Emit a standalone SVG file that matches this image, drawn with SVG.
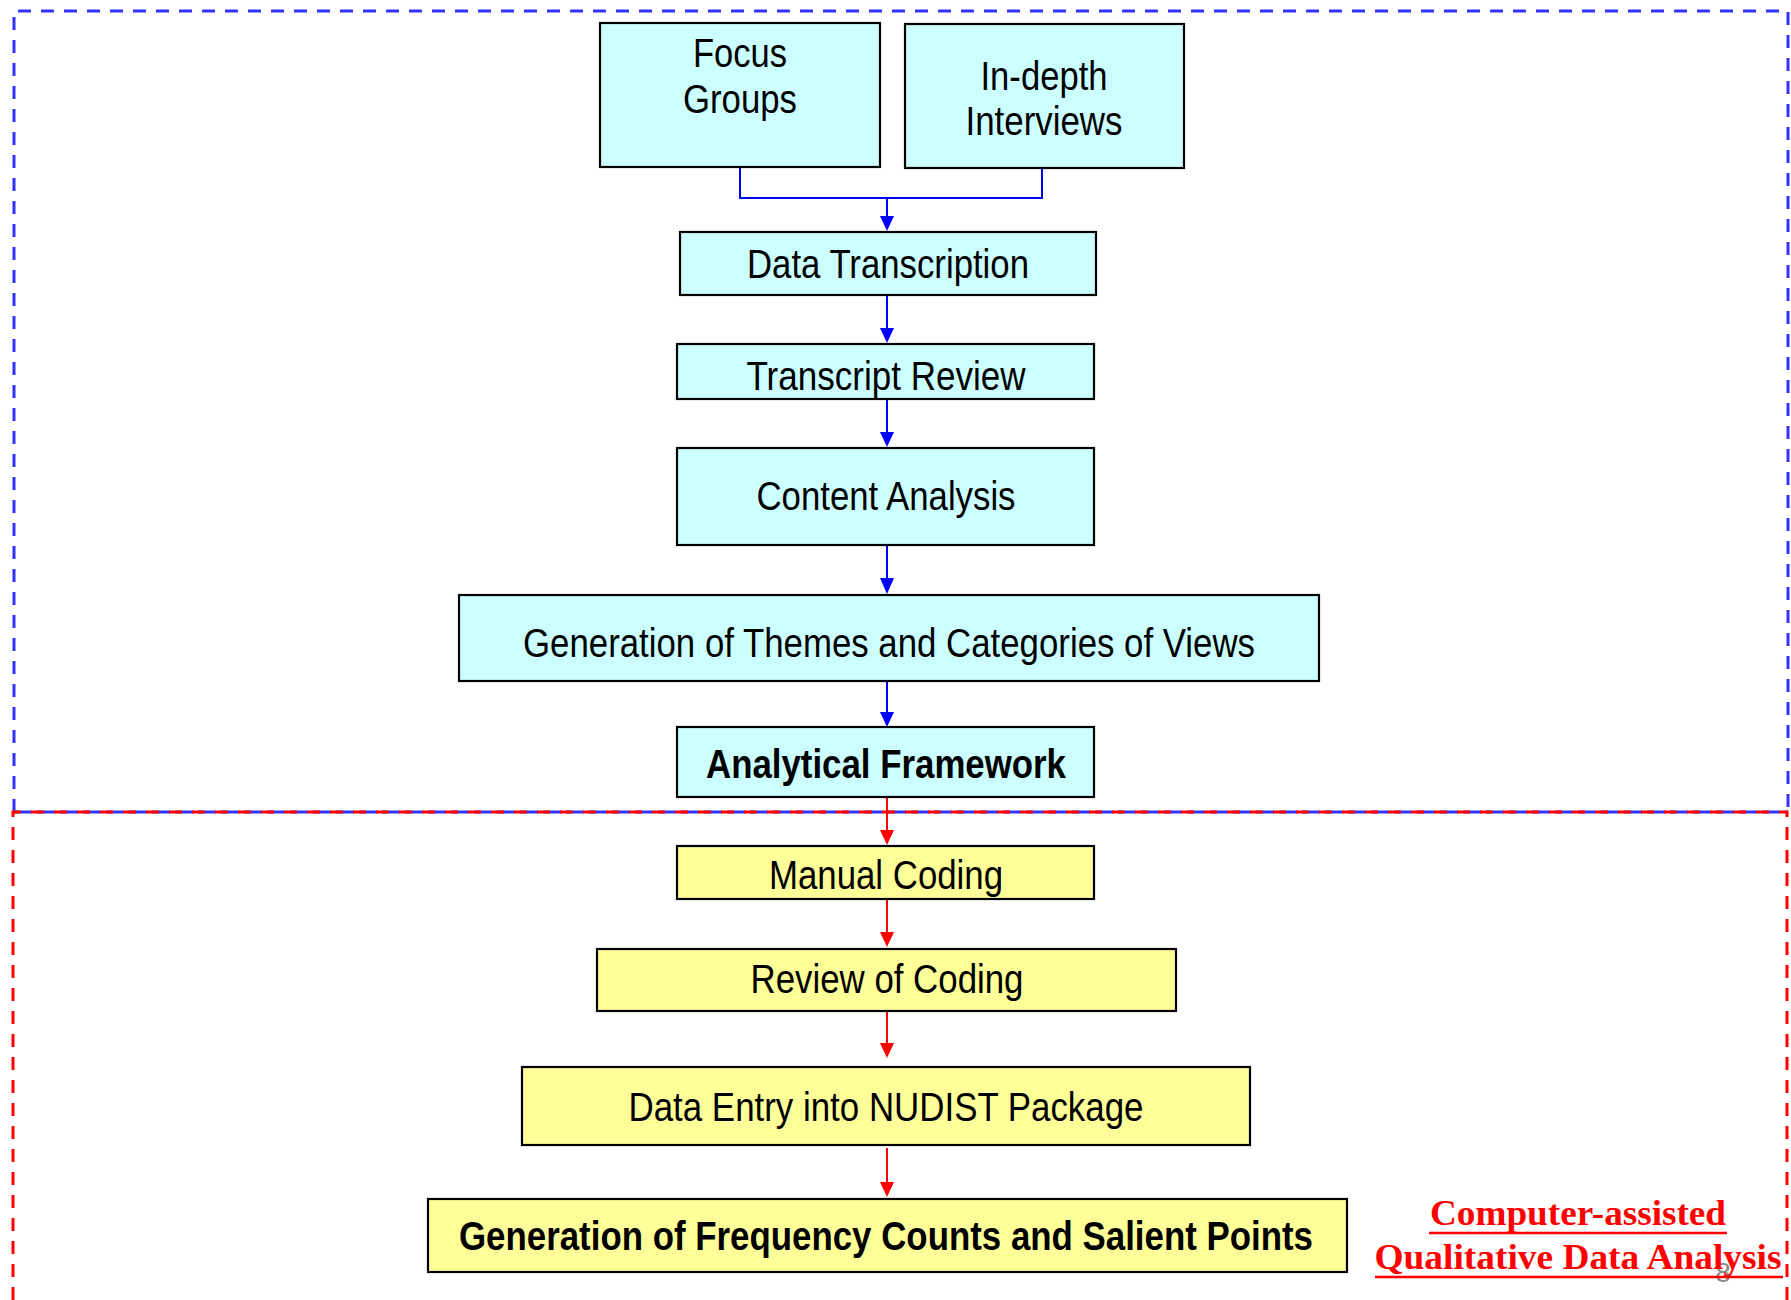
<svg xmlns="http://www.w3.org/2000/svg" width="1791" height="1300" viewBox="0 0 1791 1300">
<style>
.c{fill:#CCFFFF;stroke:#000;stroke-width:2.2}
.y{fill:#FFFF99;stroke:#000;stroke-width:2.2}
.t{font-family:"Liberation Sans Narrow","Liberation Sans",Arial,sans-serif;font-size:41px;fill:#000;text-anchor:middle}
.b{font-weight:bold}
.bl{stroke:#0000FF;stroke-width:2;fill:none}
.rd{stroke:#FF0000;stroke-width:2;fill:none}
.lab{font-family:"Liberation Serif","Times New Roman",serif;font-weight:bold;font-size:35px;fill:#FF0000;text-anchor:middle}
</style>
<defs>
<marker id="ab" markerWidth="14" markerHeight="16" refX="7" refY="16" orient="auto-start-reverse" markerUnits="userSpaceOnUse" viewBox="0 0 14 16"><path d="M0,0 L14,0 L7,16 Z" fill="#0000FF" transform="rotate(-90 7 8) translate(0,0)"/></marker>
</defs>
<rect width="1791" height="1300" fill="#fff"/>
<g id="regions">
<path d="M14,812 L14,11 L1788,11 L1788,812" fill="none" stroke="#3333FF" stroke-width="3" stroke-dasharray="13,10"/>
<path d="M14,812 L1788,812" fill="none" stroke="#3333FF" stroke-width="3" stroke-dasharray="18,5"/>
<path d="M13,1300 L13,812 L1787,812 L1787,1300" fill="none" stroke="#FF0000" stroke-width="3" stroke-dasharray="13,10"/>
</g>
<g id="connectors">
<path class="bl" d="M740,167 L740,198 L1042,198 L1042,168"/>
<path class="bl" d="M887,198 L887,218"/><path d="M880,216 L894,216 L887,231 Z" fill="#0000FF"/>
<path class="bl" d="M887,295 L887,330"/><path d="M880,328 L894,328 L887,343 Z" fill="#0000FF"/>
<path class="bl" d="M887,399 L887,434"/><path d="M880,432 L894,432 L887,447 Z" fill="#0000FF"/>
<path class="bl" d="M887,545 L887,580"/><path d="M880,578 L894,578 L887,594 Z" fill="#0000FF"/>
<path class="bl" d="M887,681 L887,714"/><path d="M880,712 L894,712 L887,727 Z" fill="#0000FF"/>
<path class="rd" d="M887,797 L887,832"/><path d="M880,830 L894,830 L887,845 Z" fill="#FF0000"/>
<path class="rd" d="M887,899 L887,934"/><path d="M880,932 L894,932 L887,947 Z" fill="#FF0000"/>
<path class="rd" d="M887,1011 L887,1045"/><path d="M880,1043 L894,1043 L887,1058 Z" fill="#FF0000"/>
<path class="rd" d="M887,1148 L887,1184"/><path d="M880,1182 L894,1182 L887,1197 Z" fill="#FF0000"/>
</g>
<g id="focus-groups"><rect class="c" x="600" y="23" width="280" height="144"/>
<text class="t" x="740" y="67" textLength="94" lengthAdjust="spacingAndGlyphs">Focus</text>
<text class="t" x="740" y="113" textLength="114" lengthAdjust="spacingAndGlyphs">Groups</text></g>
<g id="in-depth-interviews"><rect class="c" x="905" y="24" width="279" height="144"/>
<text class="t" x="1044" y="90" textLength="127" lengthAdjust="spacingAndGlyphs">In-depth</text>
<text class="t" x="1044" y="135" textLength="157" lengthAdjust="spacingAndGlyphs">Interviews</text></g>
<g id="data-transcription"><rect class="c" x="680" y="232" width="416" height="63"/>
<text class="t" x="888" y="278" textLength="282" lengthAdjust="spacingAndGlyphs">Data Transcription</text></g>
<g id="transcript-review"><rect class="c" x="677" y="344" width="417" height="55"/>
<text class="t" x="886" y="390" textLength="279" lengthAdjust="spacingAndGlyphs">Transcript Review</text></g>
<g id="content-analysis"><rect class="c" x="677" y="448" width="417" height="97"/>
<text class="t" x="886" y="510" textLength="259" lengthAdjust="spacingAndGlyphs">Content Analysis</text></g>
<g id="themes"><rect class="c" x="459" y="595" width="860" height="86"/>
<text class="t" x="889" y="657" textLength="732" lengthAdjust="spacingAndGlyphs">Generation of Themes and Categories of Views</text></g>
<g id="analytical-framework"><rect class="c" x="677" y="727" width="417" height="70"/>
<text class="t b" x="886" y="778" textLength="360" lengthAdjust="spacingAndGlyphs">Analytical Framework</text></g>
<g id="manual-coding"><rect class="y" x="677" y="846" width="417" height="53"/>
<text class="t" x="886" y="889" textLength="234" lengthAdjust="spacingAndGlyphs">Manual Coding</text></g>
<g id="review-coding"><rect class="y" x="597" y="949" width="579" height="62"/>
<text class="t" x="887" y="993" textLength="273" lengthAdjust="spacingAndGlyphs">Review of Coding</text></g>
<g id="data-entry"><rect class="y" x="522" y="1067" width="728" height="78"/>
<text class="t" x="886" y="1121" textLength="515" lengthAdjust="spacingAndGlyphs">Data Entry into NUDIST Package</text></g>
<g id="frequency-counts"><rect class="y" x="428" y="1199" width="919" height="73"/>
<text class="t b" x="886" y="1250" textLength="854" lengthAdjust="spacingAndGlyphs">Generation of Frequency Counts and Salient Points</text></g>
<g id="caqda-label">
<text x="1723" y="1282" font-family="Liberation Sans,Arial,sans-serif" font-size="28" fill="#888" text-anchor="middle">8</text>
<text class="lab" x="1578" y="1225" textLength="296" lengthAdjust="spacingAndGlyphs">Computer-assisted</text>
<text class="lab" x="1578" y="1269" textLength="407" lengthAdjust="spacingAndGlyphs">Qualitative Data Analysis</text>
<line x1="1429" y1="1233" x2="1727" y2="1233" stroke="#FF0000" stroke-width="2.5"/>
<line x1="1375" y1="1277" x2="1783" y2="1277" stroke="#FF0000" stroke-width="2.5"/>
</g>
</svg>
